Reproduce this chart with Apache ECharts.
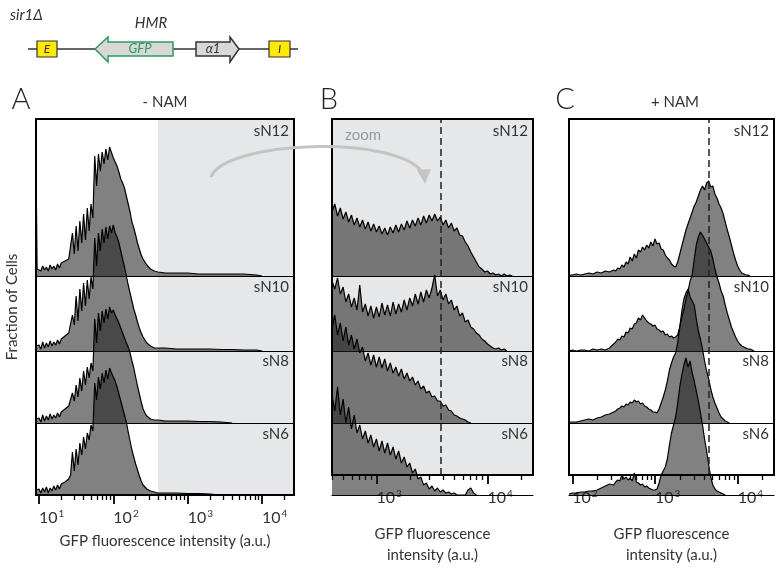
<!DOCTYPE html>
<html><head><meta charset="utf-8">
<script src="https://cdn.jsdelivr.net/npm/echarts@6/dist/echarts.min.js"></script>
<style>html,body{margin:0;padding:0;background:#fff}#c{width:780px;height:571px}</style>
</head><body><div id="c"></div>
<script>
// ---------------- DATA ----------------
const rowNames = ['sN12', 'sN10', 'sN8', 'sN6'];
const panelTitles = ['- NAM', '', '+ NAM'];
const panelLetters = ['A', 'B', 'C'];
const axisNames = ['GFP fluorescence intensity (a.u.)', 'GFP fluorescence\nintensity (a.u.)', 'GFP fluorescence\nintensity (a.u.)'];

// axis ranges as log10 exponents
const rangeA = [0.96, 4.43];
const rangeB = [2.60, 4.41];
const rangeC = [1.96, 4.44];
const zoomStartExp = 2.60;     // start of zoomed (shaded) region in A
const cutoffExpB = 3.58;       // dashed reference line (B)
const cutoffExpC = 3.65;       // dashed reference line (C)
const tickExpA = [1, 2, 3, 4];
const tickExpB = [3, 4];
const tickExpC = [2, 3, 4];

// bin centres (log10 of intensity)
const binsA = [0.96, 0.975,
  1.000,1.025,1.050,1.075,1.100,1.125,1.150,1.175,1.200,1.225,1.250,1.275,1.300,1.325,1.350,1.375,1.400,1.425,
  1.450,1.475,1.500,1.525,1.550,1.575,1.600,1.625,1.650,1.675,1.700,1.725,
  1.750,1.775,1.800,1.825,1.850,1.875,1.900,1.925,1.950,1.975,
  2.000,2.025,2.050,2.075,2.100,2.125,2.150,2.175,2.200,2.225,2.250,2.275,2.300,2.325,2.350,2.375,2.400,2.425,2.450,2.475,2.500,2.525,2.550,2.575,2.600,
  2.70,2.85,3.00,3.15,3.30,3.45,3.60,3.75,3.93,4.00];
const aSN12 = [111, 7,
  8,5,10,6,9,5,11,7,10,6,12,8,13,14,15,16,17,18,
  43,22,50,25,55,33,62,36,68,45,72,58,
  120,90,122,105,124,112,127,116,129,131,
  118,114,110,104,97,93,88,80,72,64,54,48,41,33,27,21,17,14,11,9,7,6,5,4,4,
  3,3,3,2,2,2,2,2,1,0];
const aSN10 = [5, 4,
  6,2,9,3,8,4,10,5,9,6,11,7,12,13,15,17,18,20,
  36,26,55,30,62,40,68,45,71,52,74,62,
  113,85,118,100,122,108,124,112,125,118,
  126,118,114,108,100,92,84,75,66,58,50,42,36,29,23,18,14,11,8,6,5,4,3,3,3,
  3,2,2,2,2,1.5,1.5,1,1,0];
const aSN8 = [4, 3,
  5,1,8,2,7,3,9,4,8,5,10,6,11,12,14,16,17,19,
  30,22,38,26,45,32,52,38,56,45,60,52,
  104,80,110,92,112,100,114,104,116,110,
  113,108,104,100,95,90,85,80,76,70,62,55,46,37,29,21,14,10,7,5,4,4,3,3,3,
  2,2,2,1.5,1.5,1,0,null,null,null];
const aSN6 = [5, 4,
  6,2,7,3,8,2,7,4,9,5,10,6,11,12,13,14,16,20,
  43,24,46,30,52,40,58,46,62,55,70,64,
  112,95,118,106,122,112,125,116,127,122,
  118,114,108,101,94,87,80,73,63,54,45,38,31,25,19,14,10,8,6,5,4,3,3,2,2,
  2,2,1.5,1.5,1,0,null,null,null,null];

const binsB = [2.600,2.625,2.650,2.675,2.700,2.725,2.750,2.775,2.800,2.825,2.850,2.875,2.900,2.925,2.950,2.975,
  3.000,3.025,3.050,3.075,3.100,3.125,3.150,3.175,3.200,3.225,3.250,3.275,3.300,3.325,3.350,3.375,3.400,3.425,3.450,3.475,3.500,3.525,3.550,3.575,
  3.600,3.625,3.650,3.675,3.700,3.725,3.750,3.775,3.800,3.825,3.850,3.875,3.900,3.925,3.950,3.975,
  4.000,4.025,4.050,4.075,4.100,4.125,4.150,4.175,4.200,4.225,4.250,4.275,4.300];
const bSN12 = [64,72,60,68,57,64,54,61,51,58,49,56,47,54,45,52,44,50,42,48,41,49,43,51,44,52,46,55,48,56,50,58,51,60,53,61,55,62,55,59,
  51,56,48,53,45,48,41,40,34,30,24,19,14,9,7,4,5,2,3,1,2,0,2,0,1,0,null,null,null];
const bSN10 = [70,62,73,57,64,49,57,44,53,41,66,39,47,35,45,33,44,34,48,36,46,35,49,37,47,39,51,41,53,45,57,47,59,49,61,53,63,76,55,61,
  51,57,47,51,41,45,35,38,29,31,24,22,18,16,12,10,7,5,3,2,3,1,2,0,null,null,null,null,null];
const bSN8 = [95,108,88,100,82,96,78,88,74,84,70,76,62,70,58,68,56,66,55,64,52,60,50,56,47,54,44,50,42,46,38,42,34,37,30,32,26,27,22,22,
  17,18,13,12,8,7,5,4,3,1,0,null,null,null,null,null,null,null,null,null,null,null,null,null,null,null,null,null,null];
const bSN6 = [100,84,108,80,96,72,88,66,80,62,70,56,64,52,60,48,56,44,54,42,52,40,48,36,44,32,38,28,32,22,26,16,18,10,12,6,9,4,7,3,
  5,2,3,1,2,0,0,0,0,5,7,2,0,null,null,null,null,null,null,null,null,null,null,null,null,null,null,null,null];

const binsC = [1.96,2.00,2.05,2.10,2.15,2.20,2.25,2.30,2.35,2.40,2.45,
  2.500,2.525,2.550,2.575,2.600,2.625,2.650,2.675,2.700,2.725,2.750,2.775,2.800,2.825,2.850,2.875,2.900,2.925,2.950,2.975,
  3.000,3.025,3.050,3.075,3.100,3.125,3.150,3.175,3.200,3.225,3.250,3.275,3.300,3.325,3.350,3.375,3.400,3.425,3.450,3.475,
  3.500,3.525,3.550,3.575,3.600,3.625,3.650,3.675,3.700,3.725,3.750,3.775,3.800,3.825,3.850,3.875,3.900,3.925,3.950,3.975,
  4.000,4.025,4.050,4.075,4.100,4.125,4.150,4.175,4.200];
const cSN12 = [1,1,2,1,2,3,2,4,3,5,4,
  6,5,8,7,11,9,14,12,19,15,22,18,26,24,29,26,31,28,34,30,
  37,32,33,27,26,21,18,16,12,10,9,14,22,30,38,46,52,58,64,70,
  74,80,86,90,86,93,95,89,90,82,78,72,68,62,54,46,39,31,23,16,
  10,6,3,2,1,1,0,null,null];
const cSN10 = [0,1,0,1,1,0,2,1,2,1,3,
  7,9,12,11,15,14,19,18,23,22,27,28,33,31,36,33,30,28,27,25,
  26,22,21,19,20,16,17,14,15,13,14,16,24,34,42,52,60,70,76,92,
  106,114,119,116,112,108,104,100,92,82,74,68,60,55,46,38,31,24,19,14,
  10,7,5,4,3,2,2,1,0];
const cSN8 = [1,1,1,2,3,4,3,5,6,8,9,
  11,12,14,15,17,16,19,18,21,20,23,21,22,19,20,17,16,14,13,11,
  11,10,14,20,26,33,42,53,60,66,70,80,96,112,124,130,134,126,122,118,
  104,92,84,74,62,52,44,34,26,20,15,10,6,4,2,1,0,null,null,null,
  null,null,null,null,null,null,null,null,null];
const cSN6 = [1,2,2,3,3,4,4,5,7,9,11,
  10,13,15,14,20,16,18,15,17,14,22,13,12,10,11,8,9,7,6,5,
  5,6,12,20,24,28,36,50,62,70,78,92,108,120,130,137,128,134,122,114,
  104,94,82,70,56,44,30,18,10,6,4,3,2,1,0,null,null,null,null,null,
  null,null,null,null,null,null,null,null,null];

// ---------------- LAYOUT / STYLE ----------------
const FONT = 'Lato, "Noto Sans", sans-serif';
const TXT = '#333';
const FILL = 'rgba(30,30,30,0.56)';
const SHADE = '#e6e7e8';
const TOP = 119, BOTTOM = 495, RIDGE_H = 157;
const BASELINES = [276, 351, 423, 495];

const panels = [
  {left: 36, right: 294, range: rangeA, bins: binsA, rows: [aSN12, aSN10, aSN8, aSN6], ticks: tickExpA, shade: [zoomStartExp, rangeA[1]], cutoff: null},
  {left: 332, right: 533, range: rangeB, bins: binsB, rows: [bSN12, bSN10, bSN8, bSN6], ticks: tickExpB, shade: rangeB, cutoff: cutoffExpB},
  {left: 569, right: 774, range: rangeC, bins: binsC, rows: [cSN12, cSN10, cSN8, cSN6], ticks: tickExpC, shade: null, cutoff: cutoffExpC}
];

const pow = e => Math.pow(10, e);
const grid = [], xAxis = [], yAxis = [], series = [], graphic = [];

panels.forEach((p, pi) => {
  const min = pow(p.range[0]), max = pow(p.range[1]);
  const w = p.right - p.left;
  const gF = grid.length;
  grid.push({left: p.left, top: TOP, width: w, height: BOTTOM - TOP, show: true,
    backgroundColor: 'transparent', borderColor: '#000', borderWidth: 2, z: 10});
  const majors = p.ticks.map(pow);
  const minors = [];
  for (let d = Math.floor(p.range[0]); d <= Math.ceil(p.range[1]); d++) {
    for (let k = 2; k <= 9; k++) { const v = k * pow(d); if (v >= min && v <= max) minors.push(v); }
  }
  const xMaj = xAxis.length;
  xAxis.push({type: 'log', logBase: 10, gridIndex: gF, min, max, position: 'bottom',
    axisLine: {show: false}, splitLine: {show: false},
    axisTick: {show: true, customValues: majors, length: 9, lineStyle: {color: '#000', width: 1.8}},
    axisLabel: {show: true, customValues: majors, margin: 14, align: 'left',
      formatter: v => '{b|10}{s|' + Math.round(Math.log10(v)) + '}',
      rich: {b: {fontSize: 16, fontFamily: FONT, color: TXT, lineHeight: 18},
             s: {fontSize: 10, fontFamily: FONT, color: TXT, lineHeight: 10, verticalAlign: 'top', padding: [0, 0, 0, 1]}}},
    name: axisNames[pi], nameLocation: 'middle', nameGap: pi === 0 ? 36 : 49,
    nameTextStyle: {fontSize: 15, fontFamily: FONT, color: TXT, lineHeight: 21}
  });
  xAxis.push({type: 'log', logBase: 10, gridIndex: gF, min, max, position: 'bottom',
    axisLine: {show: false}, splitLine: {show: false}, axisLabel: {show: false},
    axisTick: {show: true, customValues: minors, length: 5, lineStyle: {color: '#000', width: 1.3}}});
  const yF = yAxis.length;
  yAxis.push({type: 'value', gridIndex: gF, min: 0, max: 1, show: false});
  if (p.shade) {
    series.push({type: 'line', xAxisIndex: xMaj, yAxisIndex: yF, data: [[min, 0]], symbol: 'none',
      lineStyle: {width: 0}, silent: true, z: 1,
      markArea: {silent: true, itemStyle: {color: SHADE, opacity: 1}, data: [[{xAxis: pow(p.shade[0])}, {xAxis: pow(p.shade[1])}]]}});
  }
  if (p.cutoff != null) {
    series.push({type: 'line', xAxisIndex: xMaj, yAxisIndex: yF, data: [[min, 0]], symbol: 'none',
      lineStyle: {width: 0}, silent: true, z: 6,
      markLine: {silent: true, symbol: ['none', 'none'], label: {show: false},
        lineStyle: {type: [7, 4], color: '#222', width: 1.5}, data: [{xAxis: pow(p.cutoff)}]}});
  }
  p.rows.forEach((vals, r) => {
    const gi = grid.length;
    grid.push({left: p.left, width: w, top: BASELINES[r] - RIDGE_H, height: RIDGE_H, show: false});
    const xi = xAxis.length;
    xAxis.push({type: 'log', logBase: 10, gridIndex: gi, min, max, z: 2,
      axisLine: {show: true, onZero: false, lineStyle: {color: '#000', width: 1.2}},
      axisTick: {show: false}, axisLabel: {show: false}, splitLine: {show: false}});
    const yi = yAxis.length;
    yAxis.push({type: 'value', gridIndex: gi, min: 0, max: RIDGE_H, show: false});
    const data = p.bins.map((e, i) => vals[i] == null ? null : [pow(e), vals[i]]).filter(Boolean);
    series.push({type: 'line', name: panelLetters[pi] + ' ' + rowNames[r], xAxisIndex: xi, yAxisIndex: yi, data,
      symbol: 'none', showSymbol: false, silent: true, z: 3,
      lineStyle: {color: '#000', width: 1.2}, areaStyle: {color: FILL, opacity: 1, origin: 'start'}});
    graphic.push({type: 'text', x: p.right - 5, y: [131, 287, 361, 434][r],
      style: {text: rowNames[r], fill: TXT, font: '15px ' + FONT, textAlign: 'right', textVerticalAlign: 'middle'}, z: 20});
  });
  graphic.push({type: 'text', x: [21, 329, 565][pi], y: 100,
    style: {text: panelLetters[pi], fill: '#222', font: '300 29px ' + FONT, textAlign: 'center', textVerticalAlign: 'middle'}});
  if (panelTitles[pi]) graphic.push({type: 'text', x: [165, 0, 675][pi], y: 102,
    style: {text: panelTitles[pi], fill: TXT, font: '15px ' + FONT, textAlign: 'center', textVerticalAlign: 'middle'}});
});

// y label, zoom annotation, locus diagram
graphic.push(
  {type: 'text', x: 12, y: 307, rotation: Math.PI / 2,
    style: {text: 'Fraction of Cells', fill: TXT, font: '15px ' + FONT, textAlign: 'center', textVerticalAlign: 'middle'}},
  {type: 'text', x: 345, y: 135, z: 20,
    style: {text: 'zoom', fill: '#999', font: '15px ' + FONT, textAlign: 'left', textVerticalAlign: 'middle'}},
  {type: 'bezierCurve', z: 20, shape: {x1: 211, y1: 177, cpx1: 224, cpy1: 141, cpx2: 395, cpy2: 134, x2: 422, y2: 172},
    style: {stroke: '#c4c4c4', lineWidth: 3, fill: null}},
  {type: 'polygon', z: 20, shape: {points: [[425, 184], [417, 170], [431, 169]]}, style: {fill: '#c4c4c4'}},
  {type: 'line', shape: {x1: 28, y1: 49, x2: 298, y2: 49}, style: {stroke: '#333', lineWidth: 1.5}},
  {type: 'rect', shape: {x: 37, y: 41, width: 20, height: 16}, style: {fill: '#ffea00', stroke: '#333', lineWidth: 1.2}},
  {type: 'rect', shape: {x: 269, y: 41, width: 21, height: 16}, style: {fill: '#ffea00', stroke: '#333', lineWidth: 1.2}},
  {type: 'polygon', shape: {points: [[95, 49], [108, 37], [108, 42], [173, 42], [173, 56], [108, 56], [108, 62]]},
    style: {fill: '#d8d8d8', stroke: '#2e9a5e', lineWidth: 1.5}},
  {type: 'polygon', shape: {points: [[196, 42], [230, 42], [230, 37], [239, 49], [230, 62], [230, 56], [196, 56]]},
    style: {fill: '#d8d8d8', stroke: '#333', lineWidth: 1.5}},
  {type: 'text', x: 47, y: 49, style: {text: 'E', fill: '#333', font: 'italic 12px ' + FONT, textAlign: 'center', textVerticalAlign: 'middle'}},
  {type: 'text', x: 279.5, y: 49, style: {text: 'I', fill: '#333', font: 'italic 12px ' + FONT, textAlign: 'center', textVerticalAlign: 'middle'}},
  {type: 'text', x: 140, y: 49, style: {text: 'GFP', fill: '#2e9a5e', font: 'italic 13px ' + FONT, textAlign: 'center', textVerticalAlign: 'middle'}},
  {type: 'text', x: 213, y: 49, style: {text: 'α1', fill: '#333', font: 'italic 13px ' + FONT, textAlign: 'center', textVerticalAlign: 'middle'}},
  {type: 'text', x: 10, y: 15, style: {text: 'sir1Δ', fill: '#333', font: 'italic 15px ' + FONT, textAlign: 'left', textVerticalAlign: 'middle'}},
  {type: 'text', x: 151, y: 23, style: {text: 'HMR', fill: '#333', font: 'italic 15px ' + FONT, textAlign: 'center', textVerticalAlign: 'middle'}}
);

const chart = echarts.init(document.getElementById('c'), null, {renderer: 'canvas'});
chart.setOption({animation: false, backgroundColor: '#fff', grid, xAxis, yAxis, series, graphic});
</script>
</body></html>
